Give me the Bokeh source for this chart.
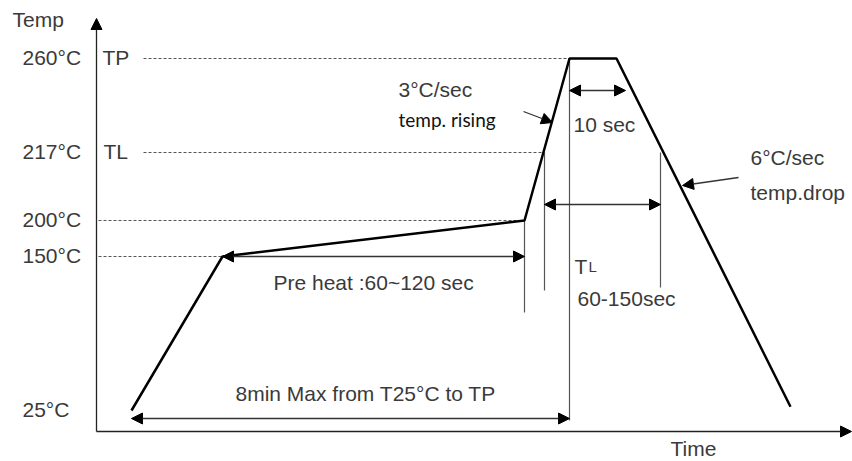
import numpy as np
from bokeh.plotting import figure
from bokeh.models import Range1d, Arrow, NormalHead, ColumnDataSource
from bokeh.core.properties import value
from bokeh.embed import file_html
from bokeh.resources import INLINE

# ---- data (schematic reflow profile) ----
temp_levels = [25, 150, 200, 217, 260]
temp_labels = ["25°C", "150°C", "200°C", "217°C", "260°C"]
level_height = [21, 175, 211, 279, 373]          # schematic height of each level

profile_time = [35, 126, 428, 473, 520, 694]     # schematic time
profile_temp = [25, 150, 200, 260, 260, 28]

tl_window = [448, 564]        # time above TL (217°C)
peak_window = [473, 529]      # 10 sec at peak
preheat_window = [126, 428]
ramp_window = [35, 473]       # 25°C to TP


def h(t):
    return np.interp(t, temp_levels, level_height)


FONT = value("Liberation Sans")
FS = "21px"
TXT = "#3a3a3a"
GRAY = "#555555"
DY = 9  # baseline correction

p = figure(width=852, height=461, output_backend="svg", toolbar_location=None,
           x_range=Range1d(-96, 756), y_range=Range1d(-30, 431),
           min_border=0, outline_line_color=None)
p.axis.visible = False
p.grid.visible = False
p.background_fill_color = "white"
p.border_fill_color = "white"

HEAD = dict(size=11, fill_color="black", line_color="black")

# axes as arrows
for xs, ys, xe, ye in [(0, 0, 0, 413), (0, 0, 755, 0)]:
    p.add_layout(Arrow(x_start=xs, y_start=ys, x_end=xe, y_end=ye,
                       line_color="#222222", line_width=1.3, end=NormalHead(**HEAD)))

# dashed guides
guide_start = {150: 2, 200: 2, 217: 47, 260: 47}
guide_end = {150: preheat_window[0], 200: preheat_window[1], 217: tl_window[0], 260: ramp_window[1]}
for t in [150, 200, 217, 260]:
    p.line([guide_start[t], guide_end[t]], [h(t), h(t)], line_color=GRAY,
           line_width=1, line_dash="3 2")

# vertical marker lines
markers = [(preheat_window[1], 200, 119), (tl_window[0], 217, 141),
           (ramp_window[1], 260, 11), (tl_window[1], 217, 144)]
for x, t, ybot in markers:
    p.line([x, x], [h(t), ybot], line_color=GRAY, line_width=1.2)

# profile
p.line(profile_time, h(profile_temp), line_color="black", line_width=2.5)


def darrow(x0, x1, y):
    p.add_layout(Arrow(x_start=x0, y_start=y, x_end=x1, y_end=y,
                       line_color="#333333", line_width=1.3,
                       start=NormalHead(**HEAD), end=NormalHead(**HEAD)))


darrow(peak_window[0], peak_window[1], 341)
darrow(tl_window[0], tl_window[1], 227)
darrow(preheat_window[0], preheat_window[1], h(150))
darrow(ramp_window[0], ramp_window[1], 13)

# pointers
for xs, ys, xe, ye in [(427, 320, 456, 309), (642, 254, 586, 246)]:
    p.add_layout(Arrow(x_start=xs, y_start=ys, x_end=xe, y_end=ye,
                       line_color="#333333", line_width=1.3, end=NormalHead(**HEAD)))

# texts (alphabetic baseline)
labels = ColumnDataSource(dict(
    x=[-84] + [-74] * 5 + [6, 7],
    y=[403 + DY] + [lv - 8 + DY for lv in level_height] + [365 + DY, 271 + DY],
    text=["Temp"] + temp_labels + ["TP", "TL"],
))
p.text("x", "y", "text", source=labels, text_font=FONT, text_font_size=FS,
       text_color=TXT, text_baseline="alphabetic", text_align="left")

notes = ColumnDataSource(dict(
    x=[302, 477, 478, 481, 654, 654, 177, 139, 574],
    y=[v + DY for v in [333, 298, 156, 124, 265, 230, 140, 29, -26]],
    text=["3°C/sec", "10 sec", "T", "60-150sec", "6°C/sec", "temp.drop",
          "Pre heat :60~120 sec", "8min Max from T25°C to TP", "Time"],
))
p.text("x", "y", "text", source=notes, text_font=FONT, text_font_size=FS,
       text_color=TXT, text_baseline="alphabetic", text_align="left")
p.text(x=[492], y=[156 + DY], text=["L"], text_font=FONT, text_font_size="15px",
       text_color=TXT, text_baseline="alphabetic", text_align="left")
p.text(x=[302], y=[303 + DY], text=["temp. rising"], text_font=value("Lato"),
       text_font_size="19px", text_color="#111111",
       text_baseline="alphabetic", text_align="left")

open("out.html", "w").write(file_html(p, INLINE))
